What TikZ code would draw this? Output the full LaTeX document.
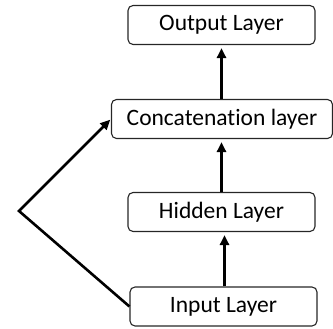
\documentclass[tikz,border=0pt]{standalone}
\usepackage{fontspec}
\setmainfont[Ligatures=NoCommon]{Carlito}
\usetikzlibrary{arrows.meta}
\begin{document}
\begin{tikzpicture}[x=1pt,y=1pt,
  layer/.style={draw=black!85, line width=1.1pt, rounded corners=5pt, minimum height=39pt, inner sep=0pt, font=\fontsize{23.5}{26}\selectfont, text=black},
  conn/.style={line width=2.6pt, -{Triangle[length=10pt,width=9pt]}, shorten >=3pt}]
\useasboundingbox (0,0) rectangle (333,329);
\node[layer, minimum width=187pt] (out) at (221.5,304) {Output Layer};
\node[layer, minimum width=221pt] (cat) at (222,210) {Concatenation layer};
\node[layer, minimum width=187pt] (hid) at (221.5,117) {Hidden Layer};
\node[layer, minimum width=187pt] (inp) at (223.5,22.5) {Input Layer};
\coordinate (bend) at (19,118);
\draw[conn] (cat.north -| out.south) -- (out.south);
\draw[conn] (hid.north) -- (hid.north |- cat.south);
\draw[conn] ([xshift=1pt]inp.north) -- ([xshift=1pt]inp.north |- hid.south);
\draw[conn, shorten >=1pt] (inp.west) -- (bend) -- (cat.west);
\end{tikzpicture}
\end{document}
